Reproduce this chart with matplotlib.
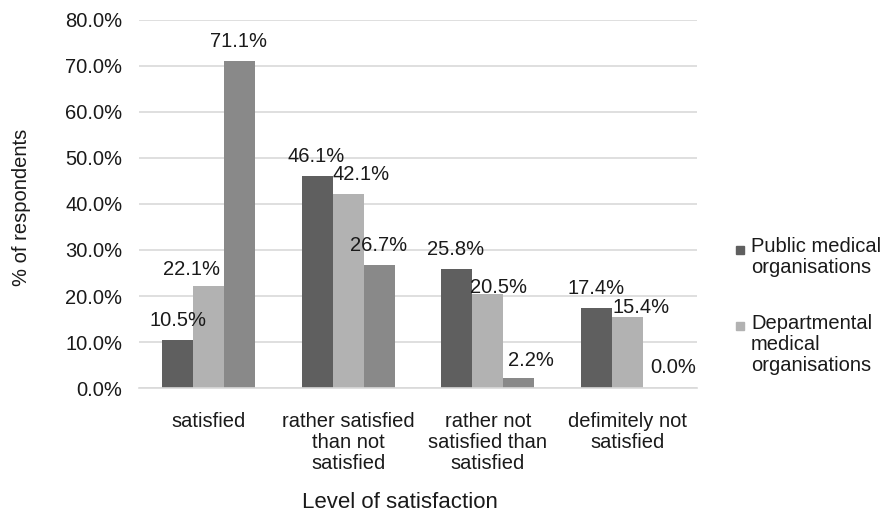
import matplotlib.pyplot as plt
import matplotlib.patches as mpatches
import numpy as np

plt.rcParams['font.family'] = ['Liberation Sans', 'DejaVu Sans']

categories = ['satisfied',
              'rather satisfied\nthan not\nsatisfied',
              'rather not\nsatisfied than\nsatisfied',
              'defimitely not\nsatisfied']
series_names = ['Public medical\norganisations',
                'Departmental\nmedical\norganisations',
                'Private medical\norganisations']
public = [10.5, 46.1, 25.8, 17.4]
departmental = [22.1, 42.1, 20.5, 15.4]
private = [71.1, 26.7, 2.2, 0.0]
yticks = [0, 10, 20, 30, 40, 50, 60, 70, 80]

colors = ['#5f5f5f', '#b2b2b2', '#898989']
# label nudges in pixels (dx, gap above bar top to baseline)
label_shift = [
    [(0, 14), (-1, 14), (-1, 14), (0, 14)],
    [(-17, 11), (13, 14), (11, 1), (14, 4)],
    [(-1, 14), (-1, 14), (12, 12), (15, 15)],
]

W, H = 893, 514
fig = plt.figure(figsize=(W / 100, H / 100), dpi=100)
ax = fig.add_axes([139 / W, 1 - 388 / H, 558 / W, 368 / H])

x = np.arange(len(categories))
bw = 1 / 4.5
for i, vals in enumerate([public, departmental, private]):
    pos = x + (i - 1) * bw
    ax.bar(pos, vals, bw, color=colors[i], zorder=2)
    for j, v in enumerate(vals):
        dx, dy = label_shift[i][j]
        ax.annotate(f'{v:.1f}%', (pos[j], v), xytext=(dx, dy),
                    textcoords='offset pixels', ha='center', va='baseline',
                    fontsize=14.5, color='#1a1a1a')

ax.set_xlim(-0.5, len(categories) - 0.5)
ax.set_ylim(0, 80)
ax.set_yticks(yticks)
ax.set_yticklabels([f'{t:.1f}%' for t in yticks])
ax.set_xticks(x)
ax.set_xticklabels(categories, linespacing=1.13)
ax.tick_params(axis='both', length=0, labelsize=14.5, colors='#1a1a1a')
ax.tick_params(axis='x', pad=17)
ax.tick_params(axis='y', pad=12)
ax.grid(axis='y', color='#d9d9d9', linewidth=1.2, zorder=0)
for s in ['top', 'right', 'left']:
    ax.spines[s].set_visible(False)
ax.spines['bottom'].set_color('#d9d9d9')
ax.spines['bottom'].set_linewidth(1.2)

fig.text(400 / W, 1 - 508 / H, 'Level of satisfaction', ha='center',
         va='baseline', fontsize=16, color='#1a1a1a')
fig.text(22 / W, 1 - 207 / H, '% of respondents', ha='center', va='center',
         rotation=90, fontsize=14.5, color='#1a1a1a')

# legend drawn by hand so the swatch sits beside the first line
for k, (sq_top, txt_top) in enumerate([(246, 237), (322, 314)]):
    fig.patches.append(mpatches.Rectangle((736 / W, 1 - (sq_top + 8) / H), 8 / W, 8 / H,
                                          transform=fig.transFigure, color=colors[k]))
    fig.text(751 / W, 1 - txt_top / H, series_names[k], ha='left', va='top',
             fontsize=14.5, color='#1a1a1a', linespacing=1.13)

fig.savefig('out.png', dpi=100)
